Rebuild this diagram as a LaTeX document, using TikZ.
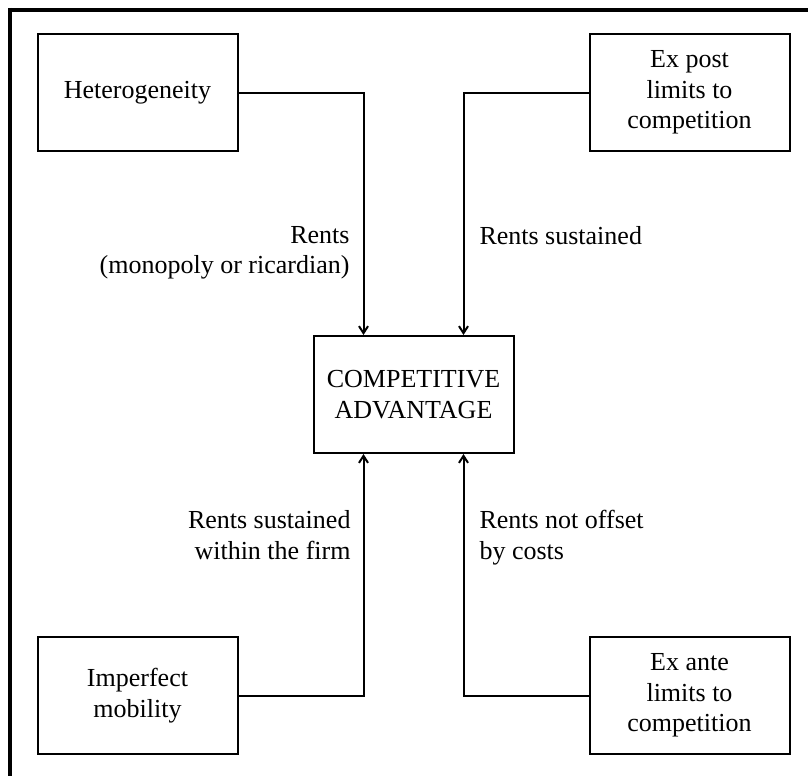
\documentclass[tikz,border=0pt]{standalone}
\usepackage{fontspec}
\setmainfont{Liberation Serif}
\usepackage{tikz}
\usetikzlibrary{arrows.meta,positioning}

\begin{document}
\begin{tikzpicture}[
    every node/.style={font=\fontsize{26}{30.5}\selectfont},
    block/.style={draw,line width=2pt,minimum width=200pt,
                  minimum height=117pt,align=center,inner sep=0pt},
    arrow/.style={-{Straight Barb[length=7pt,width=9pt]},line width=2pt},
    rent/.style={inner sep=0pt},
    frame/.style={line width=4pt}
  ]
    \useasboundingbox (0pt,0pt) rectangle (808pt,-776pt);
    \draw[frame] (8pt,-10pt) -- (808pt,-10pt);
    \draw[frame] (10pt,-8pt) -- (10pt,-776pt);
    \node[block] (ca) at (413.5pt,-394.5pt) {COMPETITIVE\\ADVANTAGE};
    \node[block, above left=183pt and 74pt of ca] (het) {Heterogeneity};
    \node[block, above right=183pt and 74pt of ca] (expost) {Ex post\\limits to\\competition};
    \node[block, below left=182pt and 74pt of ca] (imp) {Imperfect\\mobility};
    \node[block, below right=182pt and 74pt of ca] (exante) {Ex ante\\limits to\\competition};
    \draw[arrow] (het.east) -| ([xshift=-50pt]ca.north)
      node[rent, pos=0.774, anchor=north east, xshift=-13pt, align=right]
      {Rents\\(monopoly or ricardian)};
    \draw[arrow] (expost.west) -| ([xshift=50pt]ca.north)
      node[rent, pos=0.774, anchor=north west, xshift=15pt] {Rents sustained};
    \draw[arrow] (imp.east) -| ([xshift=-50pt]ca.south)
      node[rent, pos=0.885, anchor=north east, xshift=-12pt, align=right]
      {Rents sustained\\within the firm};
    \draw[arrow] (exante.west) -| ([xshift=50pt]ca.south)
      node[rent, pos=0.885, anchor=north west, xshift=15pt, align=left]
      {Rents not offset\\by costs};
  \end{tikzpicture}
\end{document}
